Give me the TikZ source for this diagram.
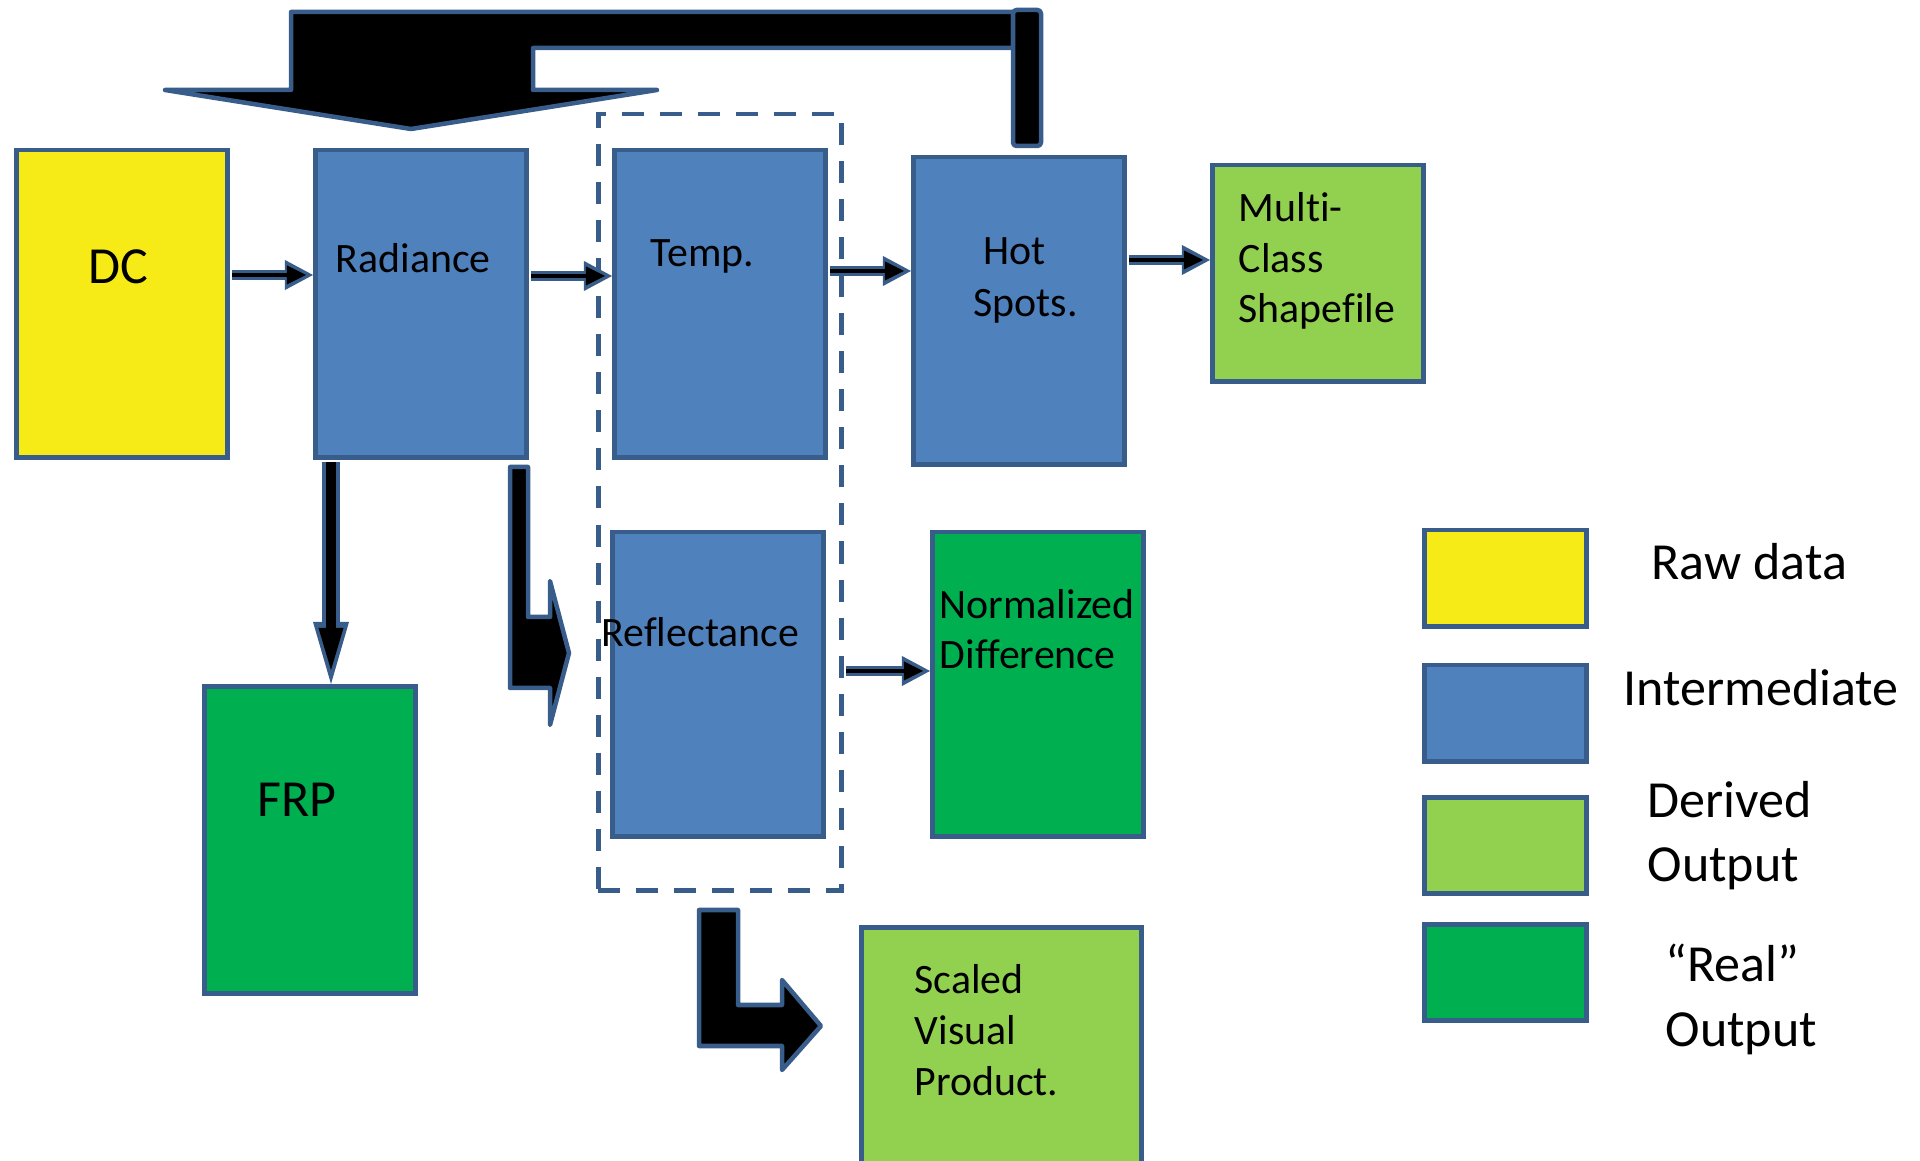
\documentclass[tikz,border=0pt]{standalone}
\usepackage{fontspec}
\setmainfont{Carlito}[Ligatures=NoCommon]
\usetikzlibrary{arrows.meta, positioning}

\definecolor{boxline}{HTML}{385D8A}
\definecolor{interblue}{HTML}{4F81BD}
\definecolor{rawyellow}{RGB}{246,235,22}
\definecolor{derivgreen}{HTML}{92D050}
\definecolor{realgreen}{HTML}{00B050}

\begin{document}
\begin{tikzpicture}[
    x=0.01cm, y=-0.01cm,
    box/.style={draw=boxline, line width=0.045cm, anchor=north west, inner sep=0pt, minimum width=2.11cm, minimum height=3.07cm},
    key/.style={box, minimum width=1.62cm, minimum height=0.96cm},
    group/.style={draw=boxline, line width=0.045cm, dash pattern=on 0.22cm off 0.16cm, anchor=north west, inner sep=0pt},
    txt/.style={anchor=base west, inner sep=0pt, align=left, font=\fontsize{11.9}{14.4}\selectfont},
    bigtxt/.style={txt, font=\fontsize{14.8}{18.2}\selectfont},
    arr/.style={draw=black, line width=0.045cm, shorten <=0.02cm, shorten >=0.07cm,
        -{Triangle[length=0.19cm, width=0.19cm, line width'=0pt]},
        preaction={draw=boxline, line width=0.10cm, shorten >=0pt,
            -{Triangle[length=0.28cm, width=0.30cm, line width'=0pt]}}},
    bigarr/.style={draw=black, line width=0.10cm, shorten <=0.02cm, shorten >=0.14cm,
        -{Triangle[length=0.42cm, width=0.25cm, line width'=0pt]},
        preaction={draw=boxline, line width=0.18cm, shorten >=0pt,
            -{Triangle[length=0.62cm, width=0.36cm, line width'=0pt]}}},
    blockarr/.style={fill=black, draw=boxline, line width=0.045cm, line join=round}
]
\useasboundingbox (0,0) rectangle (1920,1161);

% processing chain
\node[box, fill=rawyellow] (dc) at (14,148) {};
\node[box, fill=interblue] (rad) at (313,148) {};
\node[box, fill=interblue] (temp) at (612,148) {};
\node[box, fill=interblue] (hot) at (911,155) {};
\node[box, fill=derivgreen, minimum height=2.16cm] (multi) at (1210,163) {};
\node[box, fill=interblue, minimum height=3.04cm] (refl) at (610,530) {};
\node[box, fill=realgreen, minimum height=3.04cm] (norm) at (930,530) {};
\node[box, fill=realgreen] (frp) at (202,684) {};
\node[box, fill=derivgreen, minimum width=2.80cm] (scaled) at (859,925) {};
\node[group, minimum width=2.43cm, minimum height=7.76cm] (grp) at (596,112) {};

% labels (multi-line ones sit on their last baseline)
\node[bigtxt] (dctxt) at (88,284) {DC};
\node[txt] (radtxt) at (335,273) {Radiance};
\node[txt] (temptxt) at (650,267) {Temp.};
\node[txt] (hottxt) at (983,265) {Hot};
\node[txt] (spottxt) at (973,317) {Spots.};
\node[txt] (multitxt) at (1238,323) {Multi-\\Class\\Shapefile};
\node[txt] (refltxt) at (601,647) {Reflectance};
\node[txt] (normtxt) at (939,669) {Normalized\\Difference};
\node[bigtxt] (frptxt) at (257,817) {FRP};
\node[txt] (scaledtxt) at (914,1095) {Scaled\\Visual\\Product.};

% legend
\node[key, fill=rawyellow] (kraw) at (1422,528) {};
\node[key, fill=interblue] (kinter) at (1422,663) {};
\node[key, fill=derivgreen] (kderiv) at (1422,795) {};
\node[key, fill=realgreen] (kreal) at (1422,922) {};
\node[bigtxt] (rawtxt) at (1651,580) {Raw data};
\node[bigtxt] (intertxt) at (1623,706) {Intermediate};
\node[bigtxt] (derivtxt) at (1647,882) {Derived\\Output};
\node[bigtxt] (realtxt) at (1665,1046) {“Real”\\Output};

% connectors
\draw[arr] (dc.east |- 0,275) -- (rad.west |- 0,275);
\draw[arr] (rad.east |- 0,276) -- (temp.west |- 0,276);
\draw[arr] (temp.east |- 0,271) -- (hot.west |- 0,271);
\draw[arr] (hot.east |- 0,260) -- (multi.west |- 0,260);
\draw[arr] (grp.east |- 0,671) -- (norm.west |- 0,671);
\draw[bigarr] (rad.south -| 331,0) -- (frp.north -| 331,0);

\draw[blockarr] (510,467) -- (528,467) -- (528,617) -- (550,617) -- (550,581) -- (569,653)
    -- (550,725) -- (550,688) -- (510,688) -- cycle;
\draw[blockarr] (699,910) -- (738,910) -- (738,1005) -- (782,1005) -- (782,980) -- (821,1026)
    -- (782,1070) -- (782,1046) -- (699,1046) -- cycle;

% feedback from hot spots
\draw[blockarr] (291,12) -- (1013,12) -- (1013,48) -- (533,48) -- (533,90) -- (657,90)
    -- (411,129) -- (165,90) -- (291,90) -- cycle;
\draw[blockarr, rounded corners=1pt] (1013,10) rectangle (1041,146);
\end{tikzpicture}
\end{document}
